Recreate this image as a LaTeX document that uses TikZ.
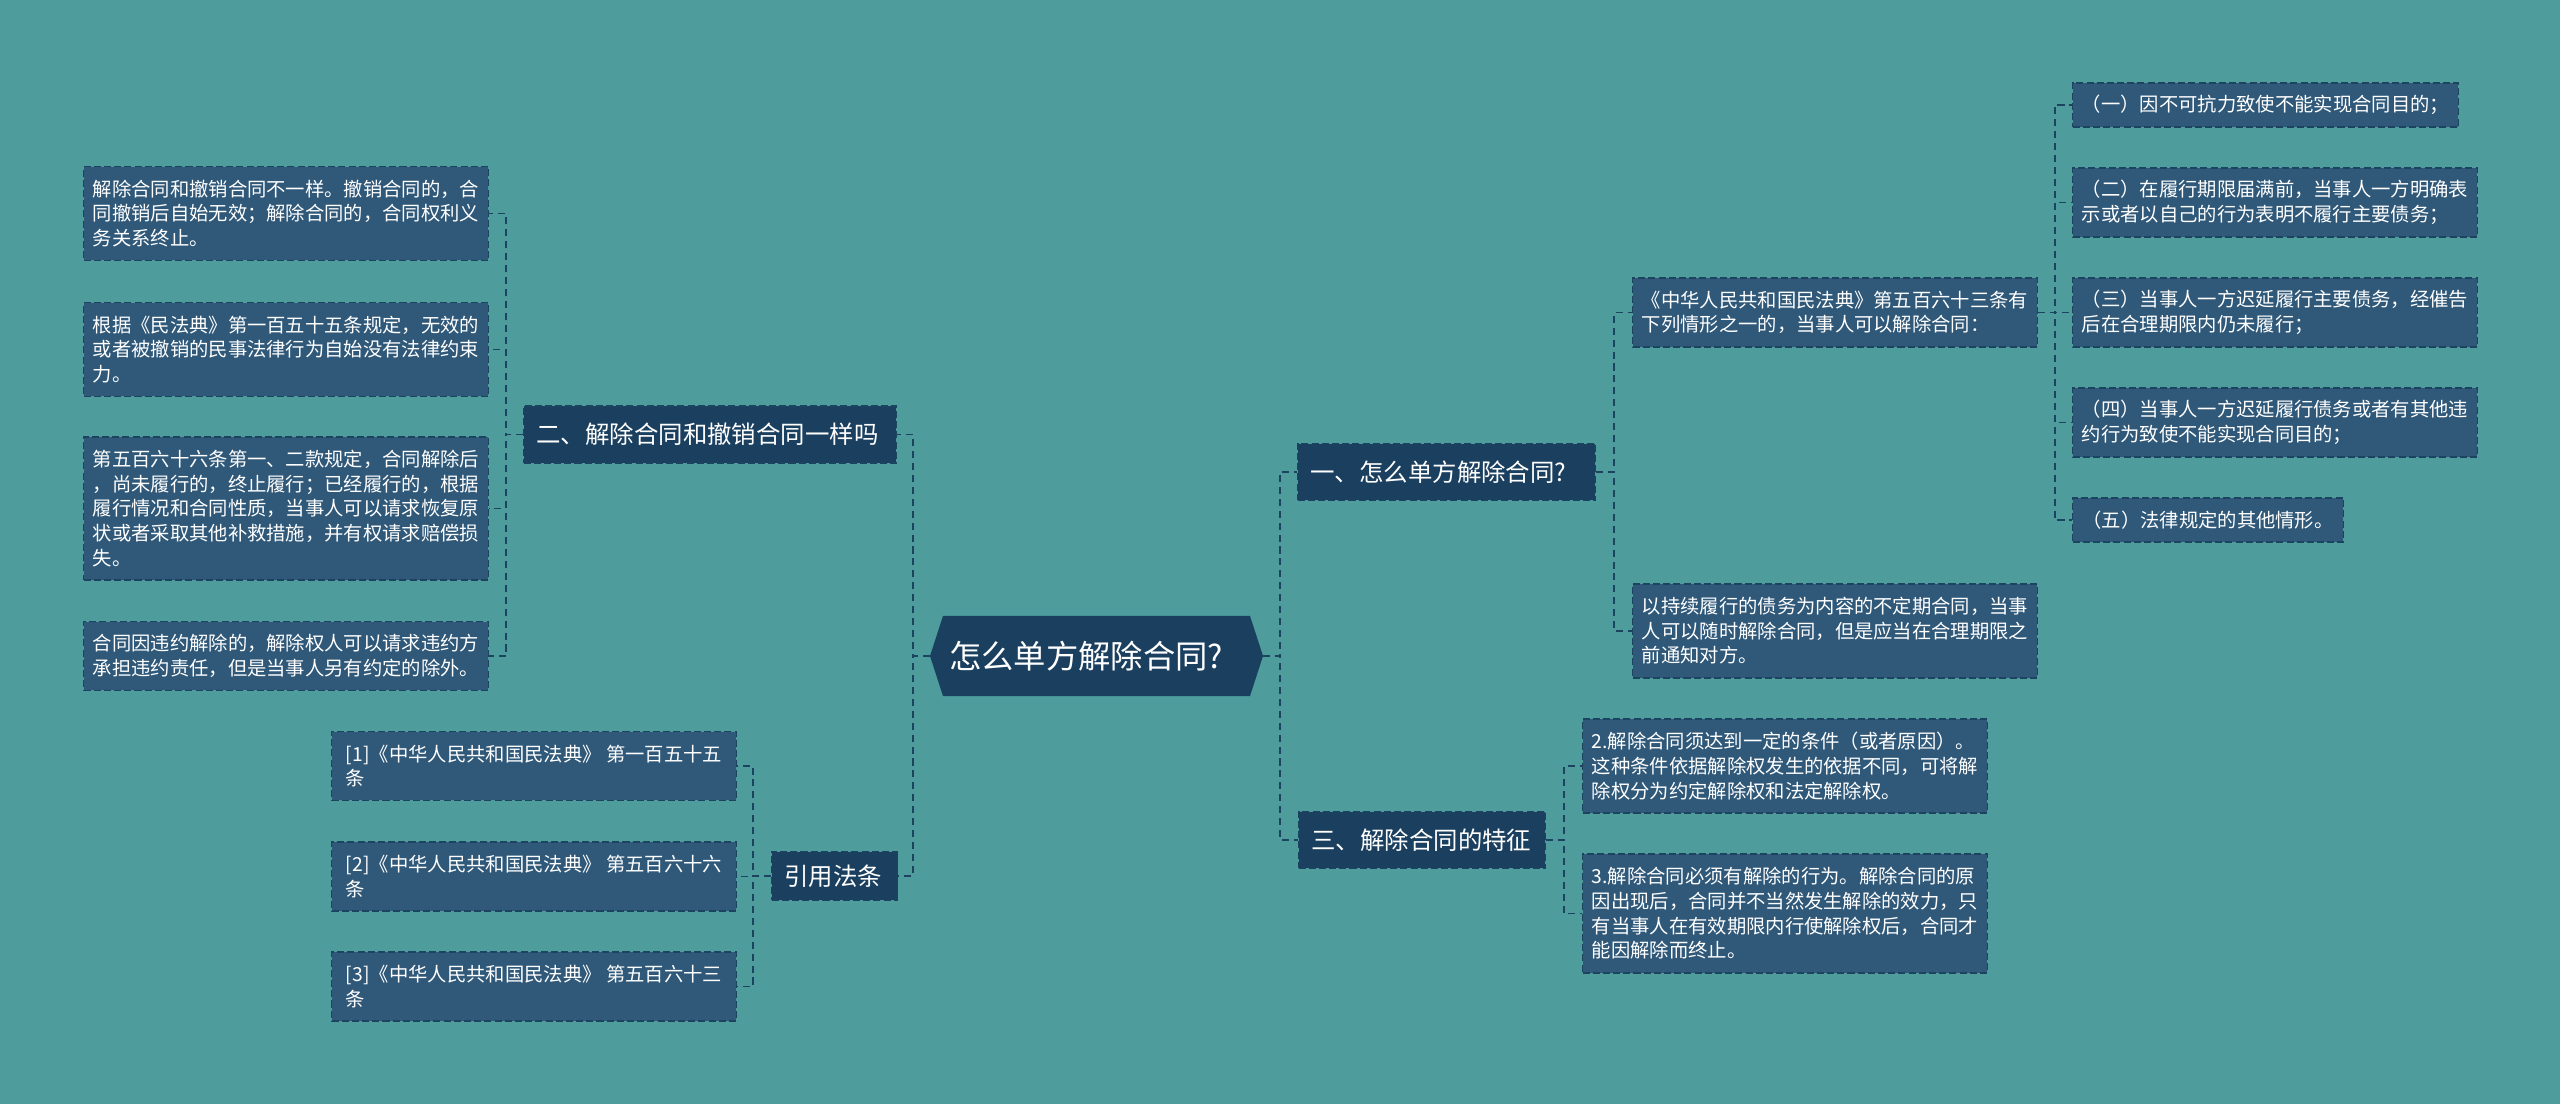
\documentclass[tikz,border=0pt]{standalone}
\usepackage{fontspec}
\setmainfont{Noto Sans CJK SC}
\usetikzlibrary{calc}
\definecolor{bgc}{HTML}{4E9C9B}
\definecolor{leafc}{HTML}{2F5879}
\definecolor{darkc}{HTML}{1A3F5F}
\definecolor{edgec}{HTML}{1C4461}
\newcommand\leaffont{\fontsize{11pt}{14pt}\selectfont}
\newcommand\midfont{\fontsize{13.9pt}{16pt}\selectfont}
\newcommand\rootfont{\fontsize{18.4pt}{22pt}\selectfont}
\begin{document}
\begin{tikzpicture}[x=0.02cm,y=-0.02cm,
 leaf/.style={draw=edgec, dash pattern=on 4pt off 1.8pt, line width=0.6pt, fill=leafc, text=white, font=\leaffont, align=left, anchor=west, inner sep=0pt},
 mid/.style={draw=edgec, dash pattern=on 4pt off 1.8pt, line width=0.6pt, fill=darkc, text=white, font=\midfont, align=left, anchor=west, inner xsep=0.26cm, inner ysep=0pt, minimum height=1.14cm},
 conn/.style={draw=edgec, dash pattern=on 4pt off 2.8pt, line width=1.1pt}]
\fill[bgc] (0,0) rectangle (2560,1104);
\useasboundingbox (0,0) rectangle (2560,1104);
% root
\coordinate (rootL) at (930,656);
\coordinate (rootR) at (1263,656);
\fill[darkc] (943,616) -- (1250,616) -- (rootR) -- (1250,696) -- (943,696) -- (rootL) -- cycle;
\node[text=white, font=\rootfont, inner sep=0pt] (root) at (1086,656) {怎么单方解除合同?};
% level 1
\node[mid, text width=6.94cm] (n2) at (523,434.5) {二、解除合同和撤销合同一样吗};
\node[mid, text width=2cm, minimum height=0.98cm] (ref) at (771,876) {引用法条};
\node[mid, text width=5.44cm] (n1) at (1297,472) {一、怎么单方解除合同?};
\node[mid, text width=4.42cm] (n3) at (1298,840) {三、解除合同的特征};
% left leaves
\node[leaf, minimum width=8.1cm, minimum height=1.88cm] (A) at (83,213.5) {解除合同和撤销合同不一样。撤销合同的，合\\同撤销后自始无效；解除合同的，合同权利义\\务关系终止。};
\node[leaf, minimum width=8.1cm, minimum height=1.88cm] (B) at (83,349.5) {根据《民法典》第一百五十五条规定，无效的\\或者被撤销的民事法律行为自始没有法律约束\\力。};
\node[leaf, minimum width=8.1cm, minimum height=2.86cm] (C) at (83,508.5) {第五百六十六条第一、二款规定，合同解除后\\，尚未履行的，终止履行；已经履行的，根据\\履行情况和合同性质，当事人可以请求恢复原\\状或者采取其他补救措施，并有权请求赔偿损\\失。};
\node[leaf, minimum width=8.1cm, minimum height=1.38cm] (D) at (83,656) {合同因违约解除的，解除权人可以请求违约方\\承担违约责任，但是当事人另有约定的除外。};
% references
\node[leaf, minimum width=8.1cm, minimum height=1.38cm] (R1) at (331,766) {[1]《中华人民共和国民法典》 第一百五十五\\条};
\node[leaf, minimum width=8.1cm, minimum height=1.38cm] (R2) at (331,876.5) {[2]《中华人民共和国民法典》 第五百六十六\\条};
\node[leaf, minimum width=8.1cm, minimum height=1.38cm] (R3) at (331,986.5) {[3]《中华人民共和国民法典》 第五百六十三\\条};
% right side
\node[leaf, minimum width=8.1cm, minimum height=1.38cm] (M) at (1632,312.5) {《中华人民共和国民法典》第五百六十三条有\\下列情形之一的，当事人可以解除合同：};
\node[leaf, minimum width=8.1cm, minimum height=1.88cm] (P) at (1632,631) {以持续履行的债务为内容的不定期合同，当事\\人可以随时解除合同，但是应当在合理期限之\\前通知对方。};
\node[leaf, minimum width=8.1cm, minimum height=1.88cm] (F2) at (1582,766) {2.解除合同须达到一定的条件（或者原因）。\\这种条件依据解除权发生的依据不同，可将解\\除权分为约定解除权和法定解除权。};
\node[leaf, minimum width=8.1cm, minimum height=2.38cm] (F3) at (1582,913.5) {3.解除合同必须有解除的行为。解除合同的原\\因出现后，合同并不当然发生解除的效力，只\\有当事人在有效期限内行使解除权后，合同才\\能因解除而终止。};
\node[leaf, minimum width=7.72cm, minimum height=0.88cm] (S1) at (2072,105) {（一）因不可抗力致使不能实现合同目的；};
\node[leaf, minimum width=8.1cm, minimum height=1.38cm] (S2) at (2072,202.5) {（二）在履行期限届满前，当事人一方明确表\\示或者以自己的行为表明不履行主要债务；};
\node[leaf, minimum width=8.1cm, minimum height=1.38cm] (S3) at (2072,312.5) {（三）当事人一方迟延履行主要债务，经催告\\后在合理期限内仍未履行；};
\node[leaf, minimum width=8.1cm, minimum height=1.38cm] (S4) at (2072,422.5) {（四）当事人一方迟延履行债务或者有其他违\\约行为致使不能实现合同目的；};
\node[leaf, minimum width=5.42cm, minimum height=0.88cm] (S5) at (2072,520) {（五）法律规定的其他情形。};
% connectors
\draw[conn] (rootL) -- ++(-17,0) |- (n2.east);
\draw[conn] (rootL) -- ++(-17,0) |- (ref.east);
\draw[conn] (rootR) -- ++(17,0) |- (n1.west);
\draw[conn] (rootR) -- ++(17,0) |- (n3.west);
\foreach \c in {A,B,C,D} \draw[conn] (n2.west) -- ++(-17,0) |- (\c.east);
\foreach \c in {R1,R2,R3} \draw[conn] (ref.west) -- ++(-18,0) |- (\c.east);
\foreach \c in {M,P} \draw[conn] (n1.east) -- ++(18,0) |- (\c.west);
\foreach \c in {S1,S2,S3,S4,S5} \draw[conn] (M.east) -- ++(17,0) |- (\c.west);
\foreach \c in {F2,F3} \draw[conn] (n3.east) -- ++(18,0) |- (\c.west);
\end{tikzpicture}
\end{document}
